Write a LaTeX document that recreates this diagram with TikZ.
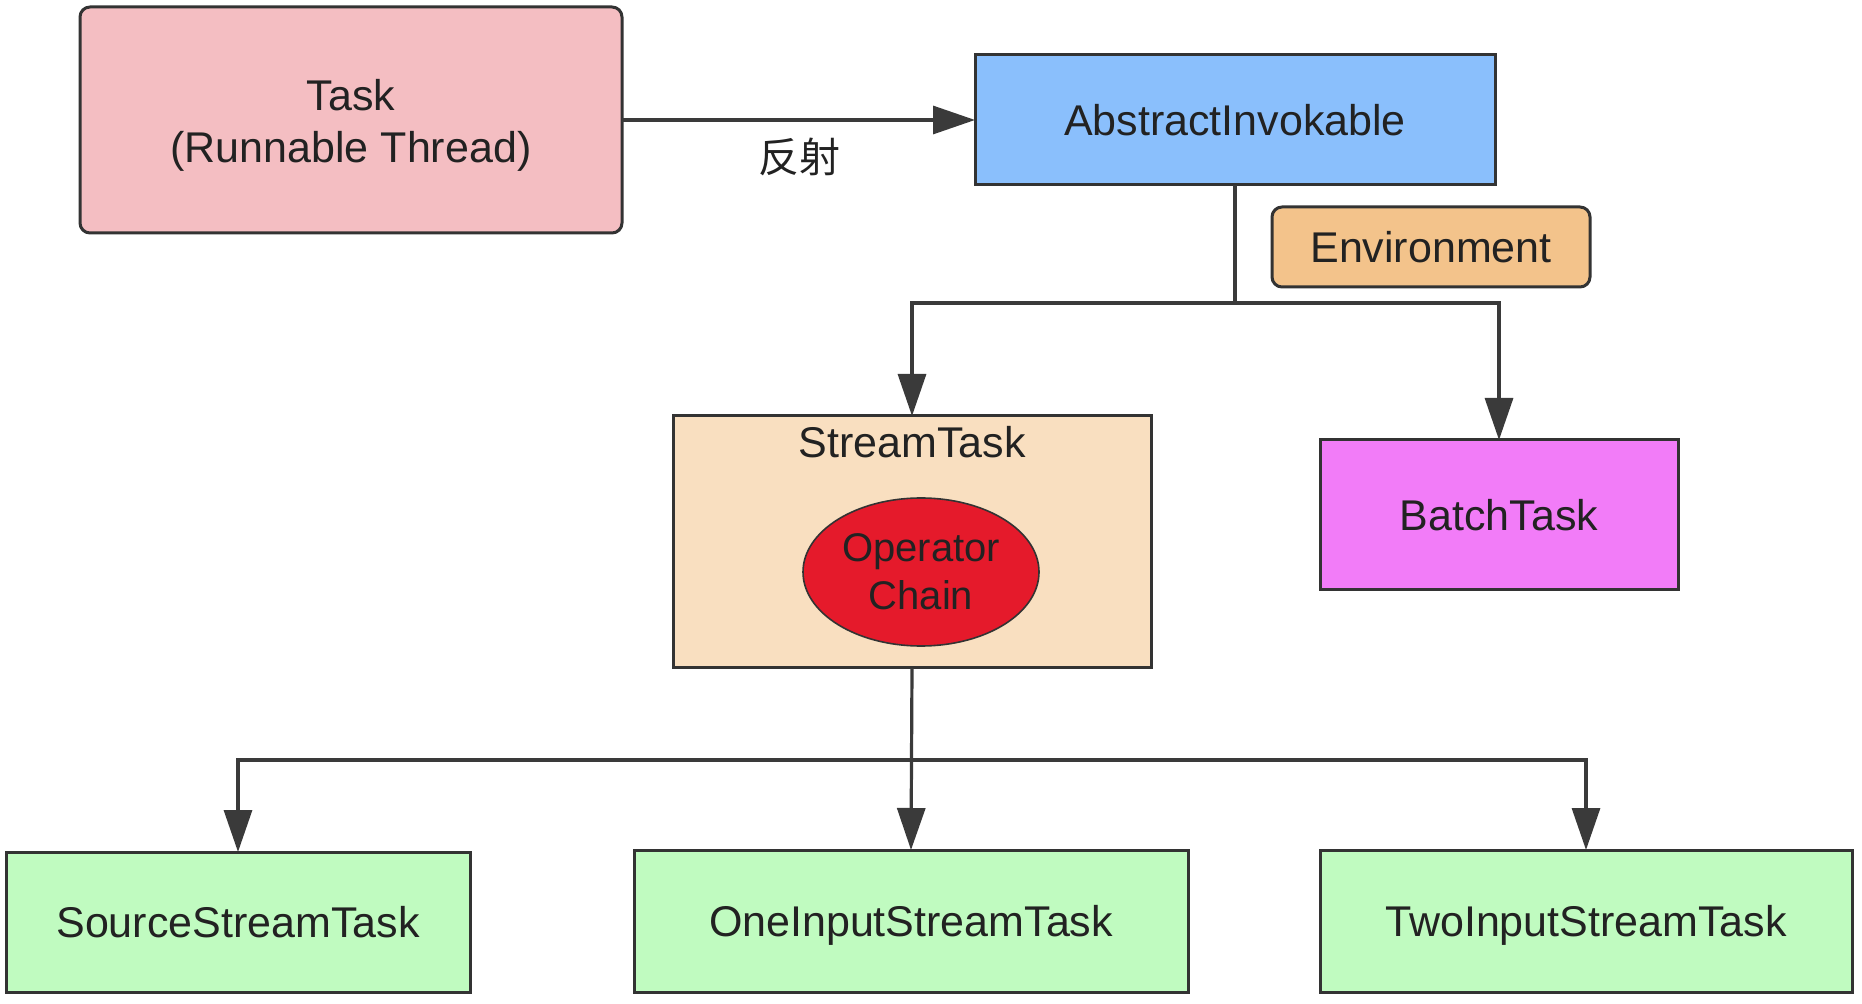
\documentclass[tikz,border=0pt]{standalone}
\usepackage{fontspec}
\setmainfont{Liberation Sans}
\newfontfamily\cjk{Noto Sans CJK SC}
\usetikzlibrary{shapes.geometric,arrows.meta}
\definecolor{taskfill}{HTML}{F4BEC2}
\definecolor{absfill}{HTML}{8ABFFC}
\definecolor{envfill}{HTML}{F3C38B}
\definecolor{streamfill}{HTML}{F9DFC0}
\definecolor{opfill}{HTML}{E51A2B}
\definecolor{batchfill}{HTML}{F27CF8}
\definecolor{greenfill}{HTML}{C0FBC0}
\definecolor{bordercol}{HTML}{333333}
\definecolor{linecol}{HTML}{3A3A3A}
\definecolor{textcol}{HTML}{222222}
\begin{document}
\begin{tikzpicture}[x=0.5pt,y=-0.5pt,
  box/.style={draw=bordercol, line width=1.5pt, inner sep=0pt, outer sep=0pt,
    text=textcol, font=\fontsize{21.5}{26.5}\selectfont, align=center},
  conn/.style={draw=linecol, line width=1.6pt, line join=miter,
    -{Triangle[length=21pt,width=14pt]}},
  txt/.style={inner sep=0pt, outer sep=0pt, text=textcol}]
\useasboundingbox (0,0) rectangle (1862,1004);

\node[box, fill=taskfill, rounded corners=5pt, minimum width=271pt, minimum height=113pt,
  label={[txt, align=center, font=\fontsize{21.5}{26}\selectfont, yshift=-2.5pt]center:Task\\(Runnable Thread)}] (task) at (351,120) {};
\node[box, fill=absfill, minimum width=260pt, minimum height=65pt] (abs) at (1235,120) {AbstractInvokable};
\node[box, fill=envfill, rounded corners=5pt, minimum width=159pt, minimum height=40pt] (env) at (1431,247) {Environment};
\node[box, fill=streamfill, minimum width=239pt, minimum height=126pt] (stream) at (912,542) {};
\node[txt, font=\fontsize{21.5}{26.5}\selectfont] (stlabel) at (912,442) {StreamTask};
\node[ellipse, draw=bordercol, line width=0.8pt, fill=opfill, inner sep=0pt, outer sep=0pt,
  minimum width=118pt, minimum height=74pt, text=textcol, align=center,
  font=\fontsize{20}{24}\selectfont] (op) at (921,572) {Operator\\Chain};
\node[box, fill=batchfill, minimum width=179pt, minimum height=75pt] (batch) at (1499,515) {BatchTask};
\node[box, fill=greenfill, minimum width=232pt, minimum height=70pt] (source) at (238,922) {SourceStreamTask};
\node[box, fill=greenfill, minimum width=277pt, minimum height=71pt, text depth=0pt] (one) at (911,921) {OneInputStreamTask};
\node[box, fill=greenfill, minimum width=266pt, minimum height=71pt, text depth=0pt] (two) at (1586,921) {TwoInputStreamTask};

\node[txt, font=\cjk\fontsize{20.5}{24}\selectfont] (refl) at (799,157) {反射};

\coordinate (j1) at (1235,303);
\coordinate (j2) at (911,760);

\draw[conn] (task.east) -- (abs.west);
\draw[conn] (abs.south) -- (j1) -| (stream.north);
\draw[conn] (j1) -| (batch.north);
\draw[conn] (stream.south) -- (one.north);
\draw[conn] (j2) -| (source.north);
\draw[conn] (j2) -| (two.north);
\end{tikzpicture}
\end{document}
